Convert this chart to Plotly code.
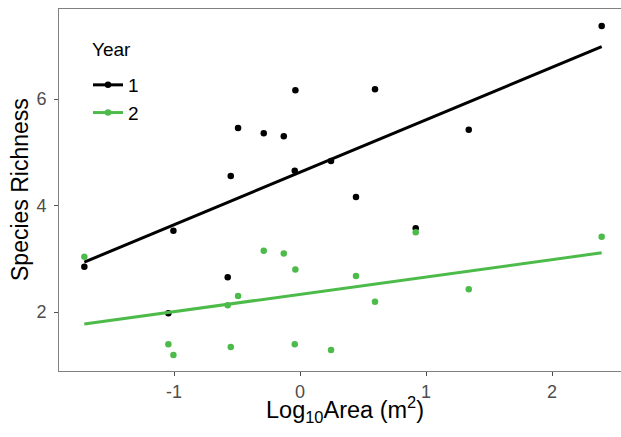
import numpy as np
import plotly.graph_objects as go

# ---- data ----
log_area = [-1.712, -1.045, -1.005, -0.574, -0.550, -0.492, -0.288, -0.129,
            -0.042, -0.037, 0.246, 0.444, 0.595, 0.918, 1.339, 2.394]
richness_y1 = [2.851, 1.976, 3.527, 2.652, 4.554, 5.455, 5.356, 5.300,
               4.654, 6.163, 4.836, 4.160, 6.182, 3.571, 5.424, 7.371]
richness_y2 = [3.039, 1.394, 1.193, 2.126, 1.343, 2.300, 3.152, 3.100,
               1.394, 2.800, 1.286, 2.676, 2.193, 3.497, 2.426, 3.414]
years = ["1", "2"]
x_ticks = [-1, 0, 1, 2]
x_tick_labels = ["-1", "0", "1", "2"]
y_ticks = [2, 4, 6]
y_tick_labels = ["2", "4", "6"]

colors = {"1": "#000000", "2": "#4DBB4A"}
FONT = "Liberation Sans, Arial, sans-serif"

W, H = 621, 437
ML, MR, MT, MB = 59, 0, 9, 66
PW, PH = W - ML - MR, H - MT - MB

fig = go.Figure()
series = {"1": richness_y1, "2": richness_y2}

# points
for yr in years:
    fig.add_trace(go.Scatter(x=log_area, y=series[yr], mode="markers",
                             marker=dict(color=colors[yr], size=6.5),
                             showlegend=False, hoverinfo="skip"))
# linear fits (as geom_smooth(method="lm"))
for yr in years:
    xs = np.array(log_area)
    b, a = np.polyfit(xs, np.array(series[yr]), 1)
    xl = np.array([xs.min(), xs.max()])
    fig.add_trace(go.Scatter(x=xl, y=a + b * xl, mode="lines",
                             line=dict(color=colors[yr], width=3),
                             showlegend=False, hoverinfo="skip"))
# legend entries
for yr in years:
    fig.add_trace(go.Scatter(x=[None], y=[None], mode="lines+markers",
                             name=yr, legendgroup=yr,
                             line=dict(color=colors[yr], width=3),
                             marker=dict(color=colors[yr], size=6.5)))

axis_common = dict(showgrid=False, zeroline=False, showline=True,
                   linecolor="#808080", linewidth=1, ticks="outside",
                   ticklen=4, tickwidth=1, tickcolor="#4d4d4d",
                   tickfont=dict(family=FONT, size=18, color="#4d4d4d"))

x_lo = -1.913
x_hi = x_lo + PW / 126.0
y_lo = 6 - (H - MB - 99) / 53.25
y_hi = y_lo + PH / 53.25

def px_x(p):
    return (p - ML) / PW

def px_y(p):
    return (H - MB - p) / PH

fig.update_layout(
    width=W, height=H,
    margin=dict(l=ML, r=MR, t=MT, b=MB),
    paper_bgcolor="white", plot_bgcolor="white",
    font=dict(family=FONT, color="black"),
    xaxis=dict(range=[x_lo, x_hi], tickvals=x_ticks, ticktext=x_tick_labels,
               mirror=True, ticklabelstandoff=0, **axis_common),
    yaxis=dict(range=[y_lo, y_hi], tickvals=y_ticks, ticktext=y_tick_labels,
               ticklabelstandoff=4, **axis_common),
    legend=dict(font=dict(family=FONT, size=19, color="black"),
                x=px_x(88), y=px_y(66), xanchor="left", yanchor="top",
                bgcolor="rgba(0,0,0,0)", traceorder="grouped", tracegroupgap=0),
    annotations=[
        dict(text="Year", xref="paper", yref="paper", x=px_x(90), y=px_y(49.5),
             xanchor="left", yanchor="middle", showarrow=False,
             font=dict(family=FONT, size=19, color="black")),
        dict(text="Log<sub>10</sub>Area (m<sup>2</sup>)", xref="paper", yref="paper",
             x=px_x(345), y=px_y(409), xanchor="center", yanchor="middle",
             showarrow=False, font=dict(family=FONT, size=23.5, color="black")),
        dict(text="Species Richness", xref="paper", yref="paper",
             x=px_x(20), y=0.5, xanchor="center", yanchor="middle", textangle=-90,
             showarrow=False, font=dict(family=FONT, size=23, color="black")),
    ],
)

fig.write_html("out.html")
